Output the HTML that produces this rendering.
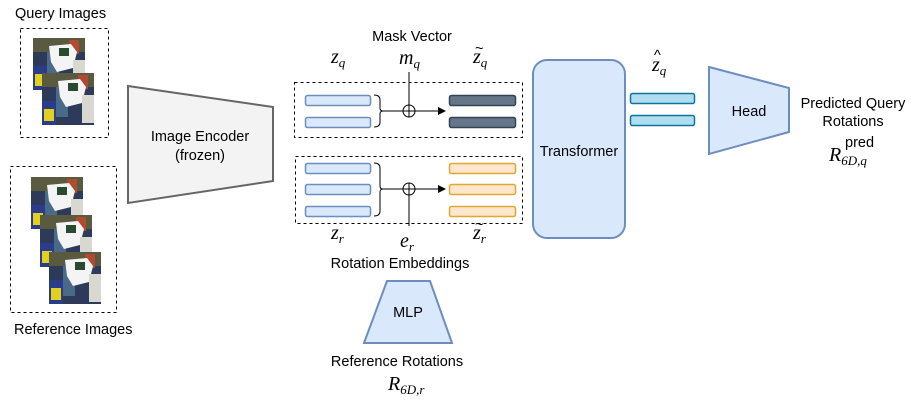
<!DOCTYPE html>
<html><head><meta charset="utf-8"><style>
html,body{margin:0;padding:0;background:#fff;}
svg{display:block;}
text{font-family:"Liberation Sans",sans-serif;font-size:14.5px;fill:#000;}
.m{font-family:"Liberation Serif",serif;font-style:italic;font-size:20px;}
.s{font-family:"Liberation Serif",serif;font-style:italic;font-size:13px;}
</style></head><body>
<svg width="913" height="404" viewBox="0 0 913 404" xmlns="http://www.w3.org/2000/svg">
<defs>
<g id="img">
<rect x="0" y="0" width="52" height="52" fill="#2e3a5a"/>
<rect x="0" y="0" width="52" height="14" fill="#5a5a40"/>
<rect x="0" y="28" width="14" height="24" fill="#2a3c8a"/>
<rect x="36" y="2" width="10" height="14" fill="#b04a30"/>
<rect x="2" y="36" width="10" height="12" fill="#e0d020"/>
<rect x="14" y="14" width="12" height="30" fill="#4a6a8a"/>
<path d="M16 8 L38 6 L44 14 L40 30 L24 34 L18 24 Z" fill="#f4f4f4"/>
<rect x="40" y="22" width="12" height="28" fill="#d8d8d0"/>
<rect x="26" y="10" width="10" height="8" fill="#2a4a30"/>
</g>
</defs>
<text x="15" y="18">Query Images</text>
<rect x="20.5" y="28.5" width="88" height="109" fill="none" stroke="#000" stroke-dasharray="3,3"/>
<use href="#img" x="33" y="38"/>
<use href="#img" x="42" y="73"/>
<rect x="10.5" y="166.5" width="106" height="146" fill="none" stroke="#000" stroke-dasharray="3,3"/>
<use href="#img" x="31" y="177"/>
<use href="#img" x="40" y="215"/>
<use href="#img" x="49" y="252"/>
<text x="14" y="334">Reference Images</text>
<polygon points="128,86 273,107 273,181 128,203" fill="#f3f3f3" stroke="#666" stroke-width="2"/>
<text x="200" y="141" text-anchor="middle">Image Encoder</text>
<text x="200" y="160" text-anchor="middle">(frozen)</text>
<text x="412" y="41" text-anchor="middle">Mask Vector</text>
<text class="m" x="331" y="63">z<tspan class="s" dy="4">q</tspan></text>
<text class="m" x="399" y="64">m<tspan class="s" dy="4">q</tspan></text>
<text class="m" x="473" y="63">z<tspan class="s" dy="4">q</tspan></text>
<text x="475" y="53" font-size="13">~</text>
<rect x="294.5" y="82.5" width="228" height="55" fill="none" stroke="#000" stroke-dasharray="3,3"/>
<rect x="305.5" y="95.5" width="65" height="10" rx="2" fill="#dae8fc" stroke="#6c8ebf" stroke-width="1.5"/>
<rect x="305.5" y="117.5" width="65" height="10" rx="2" fill="#dae8fc" stroke="#6c8ebf" stroke-width="1.5"/>
<path d="M374 95 Q380 95 380 100 L380 108 Q380 111 383 111 Q380 111 380 114 L380 122 Q380 127 374 127" fill="none" stroke="#000"/>
<line x1="383" y1="111" x2="403" y2="111" stroke="#000"/>
<line x1="409" y1="72" x2="409" y2="105" stroke="#000"/>
<circle cx="409" cy="111" r="6" fill="#fff" stroke="#000"/>
<line x1="403" y1="111" x2="415" y2="111" stroke="#000"/><line x1="409" y1="105" x2="409" y2="117" stroke="#000"/>
<line x1="415" y1="111" x2="440" y2="111" stroke="#000"/>
<polygon points="446,111 438,107 438,115" fill="#000"/>
<rect x="449.5" y="95.5" width="66" height="10" rx="2" fill="#647687" stroke="#314354" stroke-width="1.5"/>
<rect x="449.5" y="117.5" width="66" height="10" rx="2" fill="#647687" stroke="#314354" stroke-width="1.5"/>
<rect x="295.5" y="156.5" width="227" height="67" fill="none" stroke="#000" stroke-dasharray="3,3"/>
<rect x="305.5" y="163.5" width="65" height="10" rx="2" fill="#dae8fc" stroke="#6c8ebf" stroke-width="1.5"/>
<rect x="305.5" y="184.5" width="65" height="10" rx="2" fill="#dae8fc" stroke="#6c8ebf" stroke-width="1.5"/>
<rect x="305.5" y="206.5" width="65" height="10" rx="2" fill="#dae8fc" stroke="#6c8ebf" stroke-width="1.5"/>
<path d="M374 163 Q380 163 380 168 L380 186 Q380 189 383 189 Q380 189 380 192 L380 211 Q380 216 374 216" fill="none" stroke="#000"/>
<line x1="383" y1="189" x2="403" y2="189" stroke="#000"/>
<line x1="409" y1="195" x2="409" y2="226" stroke="#000"/>
<circle cx="409" cy="189" r="6" fill="#fff" stroke="#000"/>
<line x1="403" y1="189" x2="415" y2="189" stroke="#000"/><line x1="409" y1="183" x2="409" y2="195" stroke="#000"/>
<line x1="415" y1="189" x2="440" y2="189" stroke="#000"/>
<polygon points="446,189 438,185 438,193" fill="#000"/>
<rect x="449.5" y="163.5" width="66" height="10" rx="2" fill="#ffe6cc" stroke="#e0a830" stroke-width="1.5"/>
<rect x="449.5" y="184.5" width="66" height="10" rx="2" fill="#ffe6cc" stroke="#e0a830" stroke-width="1.5"/>
<rect x="449.5" y="206.5" width="66" height="10" rx="2" fill="#ffe6cc" stroke="#e0a830" stroke-width="1.5"/>
<text class="m" x="331" y="239">z<tspan class="s" dy="4">r</tspan></text>
<text class="m" x="400" y="247">e<tspan class="s" dy="4">r</tspan></text>
<text class="m" x="473" y="239">z<tspan class="s" dy="4">r</tspan></text>
<text x="475" y="229" font-size="13">~</text>
<text x="400" y="268" text-anchor="middle">Rotation Embeddings</text>
<polygon points="387,281 430,281 452,343 364,343" fill="#dae8fc" stroke="#6c8ebf" stroke-width="2"/>
<text x="408" y="317" text-anchor="middle">MLP</text>
<text x="397" y="366" text-anchor="middle">Reference Rotations</text>
<text class="m" x="388" y="390">R<tspan class="s" dy="4">6D,r</tspan></text>
<rect x="533" y="60" width="92" height="178" rx="14" fill="#dae8fc" stroke="#6c8ebf" stroke-width="2"/>
<text x="579" y="156" text-anchor="middle">Transformer</text>
<text class="m" x="652" y="71">z<tspan class="s" dy="4">q</tspan></text>
<text x="654" y="60" font-size="13">^</text>
<rect x="630.5" y="93.5" width="64" height="10" rx="2" fill="#b1ddf0" stroke="#10739e" stroke-width="1.5"/>
<rect x="630.5" y="115.5" width="64" height="10" rx="2" fill="#b1ddf0" stroke="#10739e" stroke-width="1.5"/>
<polygon points="709,67 789,88 789,132 709,154" fill="#dae8fc" stroke="#6c8ebf" stroke-width="2"/>
<text x="749" y="116" text-anchor="middle">Head</text>
<text x="853" y="108" text-anchor="middle">Predicted Query</text>
<text x="853" y="126" text-anchor="middle">Rotations</text>
<text class="m" x="829" y="161">R<tspan class="s" dy="4">6D,q</tspan></text>
<text x="845" y="147" font-family="Liberation Serif" font-size="13">pred</text>
</svg>
</body></html>
